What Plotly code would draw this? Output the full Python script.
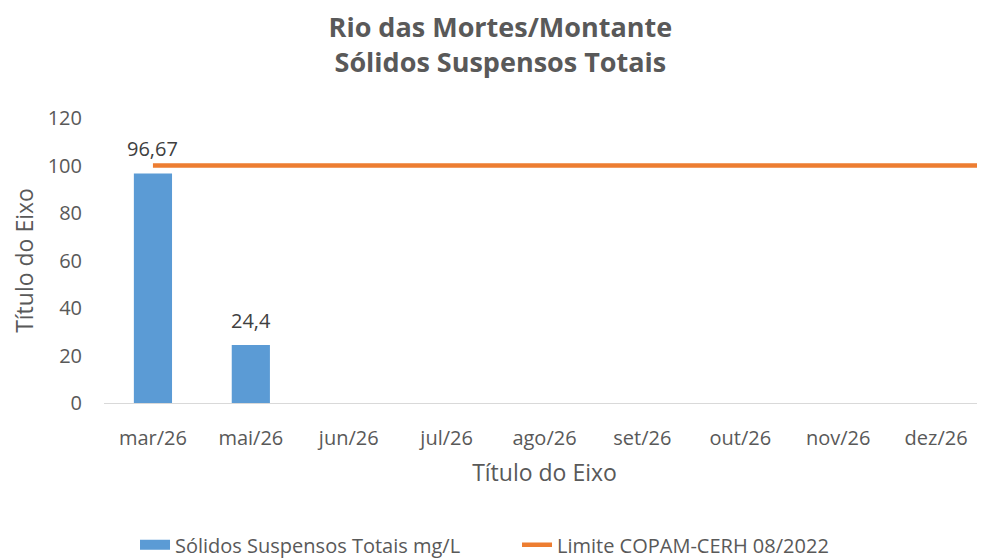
import plotly.graph_objects as go

categories = ["mar/26", "mai/26", "jun/26", "jul/26", "ago/26", "set/26", "out/26", "nov/26", "dez/26"]
sst_values = [96.67, 24.4, None, None, None, None, None, None, None]
sst_labels = ["96,67", "24,4", "", "", "", "", "", "", ""]
limit_value = 100
y_ticks = [0, 20, 40, 60, 80, 100, 120]

idx = list(range(len(categories)))
x_end = len(categories) - 0.5

FONT = "Open Sans, Noto Sans, sans-serif"
GRAY = "#595959"
BLUE = "#5B9BD5"
ORANGE = "#ED7D31"

fig = go.Figure()
fig.add_trace(go.Bar(
    x=idx, y=sst_values, name="Sólidos Suspensos Totais mg/L",
    marker=dict(color=BLUE, line=dict(width=0)), width=0.39,
    showlegend=False, legendgroup="sst",
))
# legend entry for the bars (wide swatch)
fig.add_trace(go.Scatter(
    x=[None], y=[None], mode="lines", name="Sólidos Suspensos Totais mg/L",
    line=dict(color=BLUE, width=13), legendgroup="sst",
))
fig.add_trace(go.Scatter(
    x=idx + [x_end], y=[limit_value] * (len(idx) + 1), mode="lines",
    name="Limite COPAM-CERH 08/2022",
    line=dict(color=ORANGE, width=4.5), cliponaxis=False,
))

for i, (v, lab) in enumerate(zip(sst_values, sst_labels)):
    if v is not None and lab:
        fig.add_annotation(x=idx[i], y=v, text=lab, showarrow=False,
                           yanchor="bottom", yshift=9,
                           font=dict(size=20, color="#404040", family=FONT))

# page body has an 8px margin, so the figure is sized to the visible area
fig.update_layout(
    width=977, height=550,
    paper_bgcolor="white", plot_bgcolor="white",
    margin=dict(l=96, r=0, t=110, b=155, autoexpand=False),
    font=dict(family=FONT, color=GRAY, size=20),
    title=dict(
        text="<b>Rio das Mortes/Montante</b><br><b>Sólidos Suspensos Totais</b>",
        x=0.504, xanchor="center", yref="container", y=0.948, yanchor="middle",
        font=dict(size=27, color=GRAY, family=FONT),
    ),
    showlegend=True,
    legend=dict(orientation="h", xref="container", x=0.13, xanchor="left",
                yref="container", y=0.024, yanchor="middle", entrywidth=337,
                font=dict(size=20, color=GRAY, family=FONT)),
    separators=",.",
)
fig.update_xaxes(
    range=[-0.5, x_end], tickvals=idx, ticktext=categories, automargin=False,
    showline=True, linecolor="#D9D9D9", linewidth=1,
    ticks="outside", ticklen=17, tickcolor="rgba(0,0,0,0)",
    showgrid=False, zeroline=False,
    title=dict(text="Título do Eixo", standoff=14, font=dict(size=23, color=GRAY)),
    tickfont=dict(size=20, color=GRAY),
)
fig.update_yaxes(
    range=[0, 120], tickvals=y_ticks, automargin=False,
    showline=False, showgrid=False, zeroline=False,
    ticks="outside", ticklen=17, tickcolor="rgba(0,0,0,0)",
    title=dict(text="Título do Eixo", standoff=13, font=dict(size=23, color=GRAY)),
    tickfont=dict(size=20, color=GRAY),
)

fig.write_html("out.html")
